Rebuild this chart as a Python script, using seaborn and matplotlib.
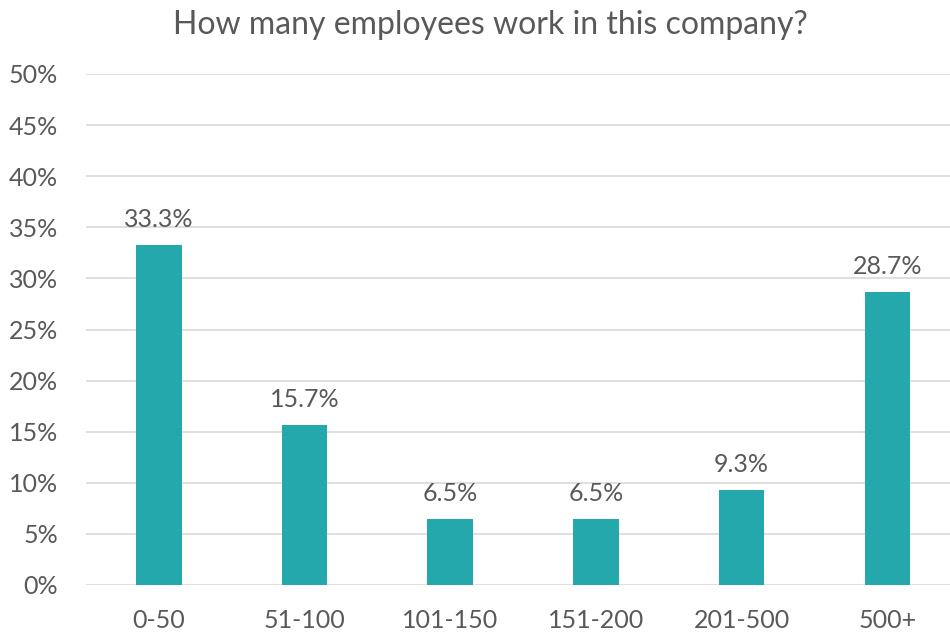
import matplotlib
matplotlib.use("Agg")
import matplotlib.pyplot as plt
import seaborn as sns
import pandas as pd
from matplotlib.ticker import PercentFormatter

categories = ["0-50", "51-100", "101-150", "151-200", "201-500", "500+"]
shares = [33.3, 15.7, 6.5, 6.5, 9.3, 28.7]
y_ticks = [0, 5, 10, 15, 20, 25, 30, 35, 40, 45, 50]

sns.set_theme(style="white")
plt.rcParams["font.family"] = ["Lato", "DejaVu Sans"]

text_color = "#595959"
bar_color = "#24A8AC"
grid_color = "#D9D9D9"

df = pd.DataFrame({"size": categories, "share": shares})

W, H = 950, 633
fig = plt.figure(figsize=(W / 100, H / 100), dpi=100)
ax = fig.add_axes([86 / W, 48 / H, (950 - 86) / W, 511 / H])

sns.barplot(data=df, x="size", y="share", color=bar_color, width=0.313,
            saturation=1, ax=ax, edgecolor="none")

ax.set_xlim(-0.5, 5.43)
ax.set_ylim(0, 50)
ax.set_yticks(y_ticks)
ax.yaxis.set_major_formatter(PercentFormatter(decimals=0))
ax.grid(axis="y", color=grid_color, linewidth=1.2)
ax.set_axisbelow(True)
for s in ax.spines.values():
    s.set_visible(False)
ax.set_xlabel("")
ax.set_ylabel("")
ax.tick_params(axis="y", length=0, pad=20, labelsize=18, labelcolor=text_color)
ax.tick_params(axis="x", length=0, pad=17, labelsize=18, labelcolor=text_color)

for i, v in enumerate(shares):
    ax.annotate(f"{v:.1f}%", (i, v), xytext=(0, 10), textcoords="offset points",
                ha="center", va="bottom", fontsize=18, color=text_color)

fig.text(490 / W, 1 - 25 / H, "How many employees work in this company?",
         ha="center", va="center", fontsize=23, color=text_color)

fig.savefig("out.png", dpi=100, facecolor="white")
